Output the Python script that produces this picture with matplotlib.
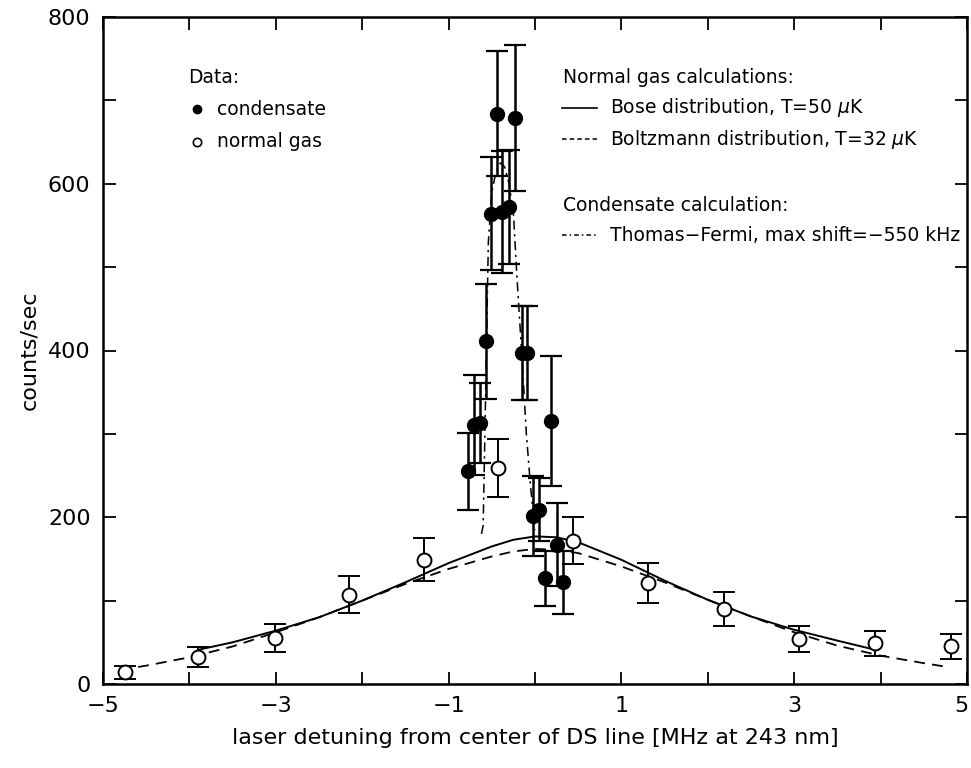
import matplotlib
matplotlib.use("Agg")
import matplotlib.pyplot as plt
from matplotlib.ticker import FixedLocator, NullFormatter
from matplotlib.transforms import ScaledTranslation

# ---------------- data ----------------
# normal gas (open circles)
gas_x = [-4.75, -3.90, -3.01, -2.15, -1.28, -0.43, 0.44, 1.31, 2.19, 3.06, 3.94, 4.81]
gas_y = [14, 32, 55, 107, 149, 259, 172, 121, 90, 54, 49, 45]
gas_err = [8, 12, 17, 22, 26, 35, 28, 24, 20, 16, 15, 15]

# condensate (filled circles)
cond_x = [-0.78, -0.71, -0.64, -0.57, -0.51, -0.44, -0.38, -0.30, -0.23,
          -0.15, -0.09, -0.02, 0.05, 0.12, 0.19, 0.25, 0.32]
cond_y = [255, 311, 313, 411, 564, 684, 566, 572, 679,
          397, 397, 201, 209, 127, 316, 167, 122]
cond_err = [46, 60, 48, 69, 68, 75, 73, 68, 88,
            56, 56, 48, 38, 33, 78, 50, 38]

# Bose distribution, T=50 uK (solid)
bose_x = [-3.9, -3.5, -3.0, -2.5, -2.0, -1.5, -1.0, -0.5, -0.25, 0.0, 0.25, 0.5,
          1.0, 1.5, 2.0, 2.5, 3.0, 3.5, 3.9]
bose_y = [41, 50, 64, 80, 100, 122, 145, 165, 173, 177, 176, 170,
          149, 124, 101, 81, 65, 52, 42]

# Boltzmann distribution, T=32 uK (dashed)
boltz_x = [-4.8, -4.5, -4.0, -3.5, -3.0, -2.5, -2.0, -1.5, -1.0, -0.5, -0.25, 0.0,
           0.25, 0.5, 1.0, 1.5, 2.0, 2.5, 3.0, 3.5, 4.0, 4.5, 4.8]
boltz_y = [17, 22, 32, 45, 62, 80, 100, 120, 138, 153, 159, 162,
           161, 157, 141, 122, 101, 81, 62, 46, 34, 25, 20]

# Thomas-Fermi condensate calculation (dash-dot)
tf_x = [-0.62, -0.60, -0.58, -0.54, -0.50, -0.45, -0.40, -0.35, -0.30, -0.25,
        -0.21, -0.15, -0.10, -0.05, 0.0]
tf_y = [180, 190, 300, 530, 590, 615, 625, 620, 600, 565,
        490, 390, 300, 235, 185]

x_major = [-5, -3, -1, 1, 3, 5]
x_minor = [-4, -2, 0, 2, 4]
x_labels = ['\u22125', '\u22123', '\u22121', '1', '3', '5']
y_major = [0, 200, 400, 600, 800]
y_minor = [100, 300, 500, 700]

# ---------------- figure ----------------
plt.rcParams['font.family'] = ['DejaVu Sans']
fig = plt.figure(figsize=(9.71, 7.68), dpi=100)
ax = fig.add_axes([103/971, 84/768, 864/971, 667/768])

ax.plot(bose_x, bose_y, color='black', lw=1.4, ls='-')
ax.plot(boltz_x, boltz_y, color='black', lw=1.3, ls=(0, (6, 4)))
ax.plot(tf_x, tf_y, color='black', lw=1.1, ls=(0, (6, 3, 1.5, 3)))

ax.errorbar(gas_x, gas_y, yerr=gas_err, fmt='o', mfc='white', mec='black',
            mew=1.4, ms=10, ecolor='black', elinewidth=1.4, capsize=8,
            capthick=1.4, zorder=4)
ax.errorbar(cond_x, cond_y, yerr=cond_err, fmt='o', mfc='black', mec='black',
            ms=10, ecolor='black', elinewidth=1.8, capsize=8, capthick=1.6,
            zorder=5)

ax.set_xlim(-5, 5)
ax.set_ylim(0, 800)
ax.xaxis.set_major_locator(FixedLocator(x_major))
ax.xaxis.set_minor_locator(FixedLocator(x_minor))
ax.yaxis.set_major_locator(FixedLocator(y_major))
ax.yaxis.set_minor_locator(FixedLocator(y_minor))
ax.xaxis.set_minor_formatter(NullFormatter())
ax.yaxis.set_minor_formatter(NullFormatter())
ax.set_xticklabels(x_labels)
ax.tick_params(which='both', direction='in', top=True, right=True,
               length=9, width=1.3, labelsize=16, pad=9)
for s in ax.spines.values():
    s.set_linewidth(1.8)

# keep the last x tick label inside the figure
last = ax.get_xticklabels()[-1]
last.set_transform(last.get_transform() + ScaledTranslation(-6/100, 0, fig.dpi_scale_trans))

ax.set_xlabel('laser detuning from center of DS line [MHz at 243 nm]',
              fontsize=16, labelpad=8)
ax.set_ylabel('counts/sec', fontsize=16, labelpad=6)

# ---------------- legend text ----------------
fs = 13.5
T = ax.transAxes
ax.text(0.098, 0.909, 'Data:', transform=T, fontsize=fs, va='center')
ax.plot([0.109], [0.862], 'o', color='black', ms=6, transform=T)
ax.text(0.132, 0.862, 'condensate', transform=T, fontsize=fs, va='center')
ax.plot([0.109], [0.813], 'o', mfc='white', mec='black', mew=1.2, ms=6, transform=T)
ax.text(0.132, 0.813, 'normal gas', transform=T, fontsize=fs, va='center')

ax.text(0.532, 0.910, 'Normal gas calculations:', transform=T, fontsize=fs, va='center')
ax.plot([0.531, 0.572], [0.864, 0.864], color='black', lw=1.2, transform=T)
ax.text(0.587, 0.864, 'Bose distribution, T=50 $\\mu$K', transform=T, fontsize=fs, va='center')
ax.plot([0.531, 0.572], [0.817, 0.817], color='black', lw=1.1, ls=(0, (3, 2)), transform=T)
ax.text(0.587, 0.817, 'Boltzmann distribution, T=32 $\\mu$K', transform=T, fontsize=fs, va='center')
ax.text(0.532, 0.718, 'Condensate calculation:', transform=T, fontsize=fs, va='center')
ax.plot([0.531, 0.572], [0.673, 0.673], color='black', lw=1.1, ls=(0, (3, 2, 1, 2)), transform=T)
ax.text(0.587, 0.673, 'Thomas\u2212Fermi, max shift=\u2212550 kHz', transform=T, fontsize=fs, va='center')

fig.savefig('out.png', dpi=100)
